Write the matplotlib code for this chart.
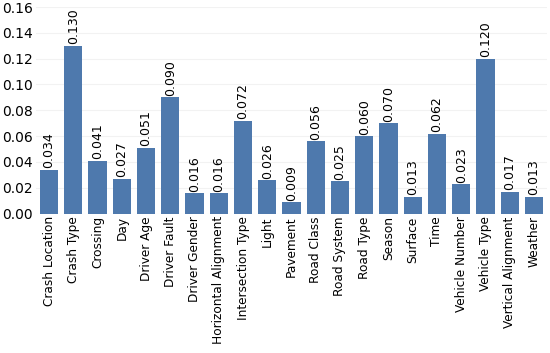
import numpy as np
import matplotlib.pyplot as plt

features = [
    "Crash Location", "Crash Type", "Crossing", "Day", "Driver Age",
    "Driver Fault", "Driver Gender", "Horizontal Alignment",
    "Intersection Type", "Light", "Pavement", "Road Class", "Road System",
    "Road Type", "Season", "Surface", "Time", "Vehicle Number",
    "Vehicle Type", "Vertical Alignment", "Weather",
]
importance = [
    0.034, 0.130, 0.041, 0.027, 0.051, 0.090, 0.016, 0.016, 0.072, 0.026,
    0.009, 0.056, 0.025, 0.060, 0.070, 0.013, 0.062, 0.023, 0.120, 0.017,
    0.013,
]

bar_color = "#4e79ad"

fig, ax = plt.subplots(figsize=(5.5, 3.53), dpi=100)
fig.subplots_adjust(left=0.065, right=0.995, top=0.98, bottom=0.395)

ind = np.arange(len(features))
ax.bar(ind, importance, width=0.75, color=bar_color)

for i, v in enumerate(importance):
    ax.text(i, v + 0.001, "%.3f" % v, rotation=90, ha="center", va="bottom",
            fontsize=9, color="black")

ax.set_xlim(-0.55, len(features) - 0.45)
ax.set_ylim(0, 0.16)
ax.set_yticks(np.arange(0, 0.161, 0.02))
ax.set_yticklabels(["%.2f" % t for t in np.arange(0, 0.161, 0.02)], fontsize=10)
ax.set_xticks(ind)
ax.set_xticklabels(features, rotation=90, fontsize=8.7)
ax.tick_params(length=0, pad=2)
ax.yaxis.grid(True, color="#f2f2f2", linewidth=0.8)
ax.set_axisbelow(True)
for s in ax.spines.values():
    s.set_visible(False)

fig.savefig("out.png", dpi=100)
